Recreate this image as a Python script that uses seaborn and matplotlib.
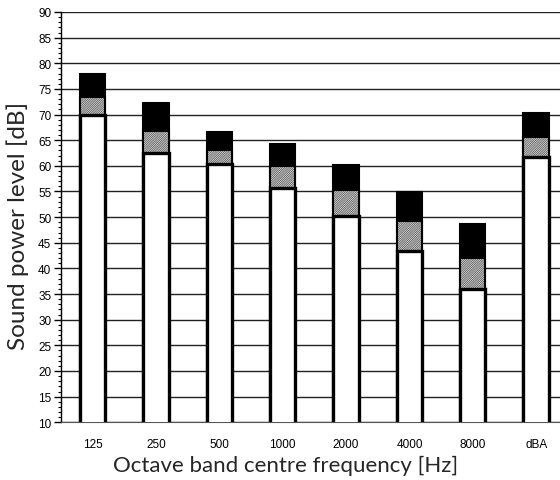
import numpy as np
import pandas as pd
import matplotlib
matplotlib.use('Agg')
import matplotlib.pyplot as plt
from matplotlib.ticker import MultipleLocator
import seaborn as sns

sns.set_style('white')

bands = ['125', '250', '500', '1000', '2000', '4000', '8000', 'dBA']
lower = [69.9, 62.6, 60.4, 55.7, 50.3, 43.4, 36.0, 61.8]
middle = [73.5, 66.7, 63.0, 59.9, 55.2, 49.2, 42.0, 65.7]
total = [77.9, 72.2, 66.6, 64.2, 60.1, 54.9, 48.6, 70.3]

df = pd.DataFrame({'band': bands, 'lower': lower, 'middle': middle, 'total': total})

plt.rcParams['hatch.linewidth'] = 0.5

fig = plt.figure(figsize=(5.6, 4.81), dpi=100)
ax = fig.add_axes([0.109, 0.12, 0.905, 0.853])

# top (black) layer
sns.barplot(data=df, x='band', y='total', color='black', width=0.4,
            edgecolor='black', linewidth=1.5, saturation=1, ax=ax, zorder=3)
# hatched middle layer
sns.barplot(data=df, x='band', y='middle', color='white', width=0.4,
            edgecolor='#404040', linewidth=0, saturation=1, ax=ax, zorder=4)
n = len(bands)
for p in ax.patches[n:2 * n]:
    p.set_hatch('/' * 18)
# outline for middle
sns.barplot(data=df, x='band', y='middle', fill=False, width=0.4,
            edgecolor='black', linewidth=1.5, ax=ax, zorder=5)
# white bottom layer
sns.barplot(data=df, x='band', y='lower', color='white', width=0.4,
            edgecolor='black', linewidth=2.4, saturation=1, ax=ax, zorder=6)

ax.set_ylim(10, 90)
ax.set_xlim(-0.5, 7.5)
ax.yaxis.set_major_locator(MultipleLocator(5))
ax.yaxis.set_minor_locator(MultipleLocator(1))
ax.yaxis.grid(True, which='major', color='#222222', linewidth=1)
ax.set_axisbelow(True)

for s in ['top', 'right']:
    ax.spines[s].set_visible(False)
ax.spines['left'].set_color('black')
ax.spines['bottom'].set_color('#555555')
ax.spines['left'].set_linewidth(1)

ax.tick_params(axis='y', which='major', left=True, length=5, width=1,
               direction='out', labelsize=8.5, pad=2, color='black')
ax.tick_params(axis='y', which='minor', left=True, length=2.5, width=0.8,
               direction='out', color='black')
ax.tick_params(axis='x', bottom=False, labelsize=8.5, pad=8)
for t in ax.get_xticklabels() + ax.get_yticklabels():
    t.set_fontfamily('Liberation Sans')
    t.set_color('black')

ax.set_xlabel('Octave band centre frequency [Hz]', fontsize=16,
              fontfamily='Lato', va='center')
ax.set_ylabel('Sound power level [dB]', fontsize=17.5,
              fontfamily='Lato', va='center')
ax.xaxis.set_label_coords(0.444, -0.104)
ax.yaxis.set_label_coords(-0.085, 0.481)

fig.savefig('out.png', dpi=100)
